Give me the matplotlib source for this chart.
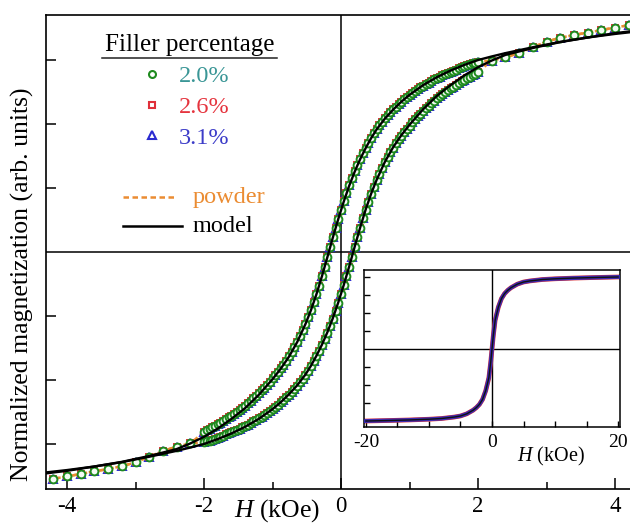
import numpy as np
import matplotlib
matplotlib.use("Agg")
import matplotlib.pyplot as plt
from matplotlib.lines import Line2D

plt.rcParams['font.family'] = ['Liberation Serif', 'DejaVu Serif']
plt.rcParams['mathtext.fontset'] = 'custom'
plt.rcParams['mathtext.rm'] = 'Liberation Serif'
plt.rcParams['mathtext.it'] = 'Liberation Serif:italic'
plt.rcParams['axes.unicode_minus'] = False

# ---------------- data ----------------
# dense part of the loop (kOe)
field_dense = [-2.00, -1.96, -1.92, -1.88, -1.84, -1.80, -1.76, -1.72, -1.68, -1.64,
               -1.60, -1.56, -1.52, -1.48, -1.44, -1.40, -1.36, -1.32, -1.28, -1.24,
               -1.20, -1.16, -1.12, -1.08, -1.04, -1.00, -0.96, -0.92, -0.88, -0.84,
               -0.80, -0.76, -0.72, -0.68, -0.64, -0.60, -0.56, -0.52, -0.48, -0.44,
               -0.40, -0.36, -0.32, -0.28, -0.24, -0.20, -0.16, -0.12, -0.08, -0.04,
               0.00, 0.04, 0.08, 0.12, 0.16, 0.20, 0.24, 0.28, 0.32, 0.36,
               0.40, 0.44, 0.48, 0.52, 0.56, 0.60, 0.64, 0.68, 0.72, 0.76,
               0.80, 0.84, 0.88, 0.92, 0.96, 1.00, 1.04, 1.08, 1.12, 1.16,
               1.20, 1.24, 1.28, 1.32, 1.36, 1.40, 1.44, 1.48, 1.52, 1.56,
               1.60, 1.64, 1.68, 1.72, 1.76, 1.80, 1.84, 1.88, 1.92, 1.96, 2.00]
# decreasing-field branch
mag_down = [-0.703, -0.697, -0.692, -0.685, -0.679, -0.673, -0.667, -0.660, -0.653, -0.646,
            -0.639, -0.632, -0.625, -0.616, -0.608, -0.600, -0.591, -0.582, -0.572, -0.562,
            -0.552, -0.541, -0.530, -0.518, -0.506, -0.494, -0.482, -0.469, -0.455, -0.441,
            -0.425, -0.408, -0.390, -0.371, -0.351, -0.329, -0.306, -0.281, -0.255, -0.227,
            -0.197, -0.165, -0.131, -0.095, -0.058, -0.020, 0.019, 0.057, 0.094, 0.130,
            0.165, 0.198, 0.230, 0.260, 0.288, 0.315, 0.340, 0.364, 0.386, 0.407,
            0.427, 0.446, 0.464, 0.480, 0.495, 0.509, 0.522, 0.534, 0.546, 0.557,
            0.567, 0.577, 0.587, 0.596, 0.605, 0.613, 0.621, 0.629, 0.636, 0.643,
            0.650, 0.656, 0.662, 0.668, 0.674, 0.680, 0.685, 0.690, 0.695, 0.700,
            0.705, 0.709, 0.713, 0.718, 0.722, 0.726, 0.729, 0.733, 0.737, 0.740, 0.744]
# increasing-field branch
mag_up = [-0.744, -0.740, -0.737, -0.733, -0.729, -0.726, -0.722, -0.718, -0.713, -0.709,
          -0.705, -0.700, -0.695, -0.690, -0.685, -0.680, -0.674, -0.668, -0.662, -0.656,
          -0.650, -0.643, -0.636, -0.629, -0.621, -0.613, -0.605, -0.596, -0.587, -0.577,
          -0.567, -0.557, -0.546, -0.534, -0.522, -0.509, -0.495, -0.480, -0.464, -0.446,
          -0.427, -0.407, -0.386, -0.364, -0.340, -0.315, -0.288, -0.260, -0.230, -0.198,
          -0.165, -0.130, -0.094, -0.057, -0.019, 0.020, 0.058, 0.095, 0.131, 0.165,
          0.197, 0.227, 0.255, 0.281, 0.306, 0.329, 0.351, 0.371, 0.390, 0.408,
          0.425, 0.441, 0.455, 0.469, 0.482, 0.494, 0.506, 0.518, 0.530, 0.541,
          0.552, 0.562, 0.572, 0.582, 0.591, 0.600, 0.608, 0.616, 0.625, 0.632,
          0.639, 0.646, 0.653, 0.660, 0.667, 0.673, 0.679, 0.685, 0.692, 0.697, 0.703]
# high-field tails (both branches coincide)
tail_field_neg = [-4.2, -4.0, -3.8, -3.6, -3.4, -3.2, -3.0, -2.8, -2.6, -2.4, -2.2]
tail_mag_neg = [-0.886, -0.877, -0.867, -0.857, -0.848, -0.837, -0.822, -0.800, -0.778, -0.760, -0.748]
tail_field_pos = [2.2, 2.4, 2.6, 2.8, 3.0, 3.2, 3.4, 3.6, 3.8, 4.0, 4.2]
tail_mag_pos = [0.748, 0.760, 0.778, 0.800, 0.822, 0.837, 0.848, 0.857, 0.867, 0.877, 0.886]

# model loop
model_field = [-4.4, -4.0, -3.6, -3.2, -2.8, -2.4, -2.2, -2.0, -1.8, -1.6, -1.4, -1.2, -1.0,
               -0.88, -0.76, -0.64, -0.52, -0.44, -0.36, -0.28, -0.20, -0.12, -0.04,
               0.04, 0.12, 0.20, 0.28, 0.36, 0.44, 0.52, 0.64, 0.76, 0.88,
               1.0, 1.2, 1.4, 1.6, 1.8, 2.0, 2.2, 2.4, 2.8, 3.2, 3.6, 4.0, 4.4]
model_down = [-0.868, -0.855, -0.838, -0.820, -0.797, -0.770, -0.748, -0.722, -0.690, -0.652,
              -0.610, -0.558, -0.497, -0.456, -0.409, -0.352, -0.282, -0.228, -0.166, -0.096,
              -0.021, 0.056, 0.129, 0.197, 0.259, 0.314, 0.363, 0.406, 0.445, 0.479,
              0.521, 0.556, 0.587, 0.614, 0.652, 0.683, 0.709, 0.731, 0.750, 0.764,
              0.777, 0.800, 0.821, 0.838, 0.852, 0.864]
model_up = [-0.864, -0.852, -0.838, -0.821, -0.800, -0.777, -0.764, -0.750, -0.731, -0.709,
            -0.683, -0.652, -0.614, -0.587, -0.556, -0.521, -0.479, -0.445, -0.406, -0.363,
            -0.314, -0.259, -0.197, -0.129, -0.056, 0.021, 0.096, 0.166, 0.228, 0.282,
            0.352, 0.409, 0.456, 0.497, 0.558, 0.610, 0.652, 0.690, 0.722, 0.748,
            0.770, 0.797, 0.820, 0.838, 0.855, 0.868]

# wide-field loop for the inset
wide_field = [-20, -16, -13, -10, -8, -6, -5, -4, -3, -2.5, -2, -1.5, -1, -0.5, -0.2, 0,
              0.2, 0.5, 1, 1.5, 2, 2.5, 3, 4, 5, 6, 8, 10, 13, 16, 20]
wide_mag = [-1.0, -0.992, -0.985, -0.975, -0.965, -0.945, -0.93, -0.90, -0.85, -0.815, -0.77,
            -0.70, -0.58, -0.40, -0.18, 0.0, 0.18, 0.40, 0.58, 0.70, 0.77, 0.815, 0.85,
            0.90, 0.93, 0.945, 0.965, 0.975, 0.985, 0.992, 1.0]

series_labels = ['2.0%', '2.6%', '3.1%']
series_markers = ['o', 's', '^']
marker_colors = ['#1e8a1e', '#e0303a', '#2a2ad0']
text_colors = ['#3a9696', '#e5343e', '#3c3cc8']
powder_color = '#eb8c32'

# ---------------- figure ----------------
W, HH = 630, 526
fx = lambda x: x / W
fy = lambda y: 1 - y / HH

fig = plt.figure(figsize=(6.3, 5.26), dpi=100)
ax = fig.add_axes([fx(46), fy(489), 589 / W, 474 / HH])
ax.set_xlim(-4.307, 4.292)
ax.set_ylim(-0.926, 0.926)
for s in ['left', 'top', 'bottom']:
    ax.spines[s].set_linewidth(1.2)
ax.spines['right'].set_visible(False)
ax.axhline(0, color='k', lw=1.1, zorder=1)
ax.axvline(0, color='k', lw=1.1, zorder=1)

ax.set_xticks([-4, -2, 0, 2, 4])
ax.set_xticklabels(['-4', '-2', '0', '2', '4'])
ax.set_xticks([-3, -1, 1, 3], minor=True)
ax.tick_params(axis='x', which='major', direction='in', length=8, width=1.1,
               labelsize=16.5, pad=5, top=False)
ax.tick_params(axis='x', which='minor', direction='in', length=5, width=1.1, top=False)
ax.set_yticks([-0.75, -0.5, -0.25, 0.25, 0.5, 0.75])
ax.tick_params(axis='y', which='major', direction='in', length=7, width=1.1,
               labelleft=False, right=False)

f_dense = np.array(field_dense)
f_all = np.concatenate([tail_field_neg, f_dense, f_dense, tail_field_pos])
m_all = np.concatenate([tail_mag_neg, mag_down, mag_up, tail_mag_pos])

# powder reference, dashed
down_path_f = np.concatenate([tail_field_pos[::-1], f_dense[::-1], tail_field_neg[::-1]])
down_path_m = np.concatenate([tail_mag_pos[::-1], np.array(mag_down)[::-1], tail_mag_neg[::-1]])
up_path_f = np.concatenate([tail_field_neg, f_dense, tail_field_pos])
up_path_m = np.concatenate([tail_mag_neg, mag_up, tail_mag_pos])
for pf, pm in [(down_path_f, down_path_m), (up_path_f, up_path_m)]:
    ax.plot(pf, pm, color=powder_color, lw=1.8, ls=(0, (2.2, 1.4)), zorder=2)

sizes = {'o': 5.6, 's': 4.6, '^': 6.4}
fills = {'o': '#f4fbf4', 's': 'none', '^': '#2a2ad0'}
order = [2, 1, 0]
for z, i in enumerate(order):
    mk = series_markers[i]
    ax.plot(f_all, m_all, ls='none', marker=mk, ms=sizes[mk], mfc=fills[mk],
            mec=marker_colors[i], mew=1.4, zorder=3 + z)

ax.plot(model_field, model_down, color='k', lw=1.7, zorder=7)
ax.plot(model_field, model_up, color='k', lw=1.7, zorder=7)

# axis titles
fig.text(fx(22), fy(284), 'Normalized magnetization (arb. units)', rotation=90,
         ha='center', va='center', fontsize=18.5)
fig.text(fx(277), fy(517), r'$H$ (kOe)', ha='center', va='baseline', fontsize=18.5)

# legend block
fig.text(fx(189.5), fy(51.5), 'Filler percentage', ha='center', va='baseline', fontsize=18)
fig.add_artist(Line2D([fx(102), fx(277)], [fy(57.5), fy(57.5)], color='#222222', lw=1.1))
rows = [74, 104.5, 135]
bases = [82.5, 113, 144]
leg_ms = {'o': 5.0, 's': 5.0, '^': 6.0}
for i in range(3):
    mk = series_markers[i]
    fig.add_artist(Line2D([fx(151.5)], [fy(rows[i])], marker=mk, ms=leg_ms[mk], mfc='none',
                          mec=marker_colors[i], mew=1.5, ls='none'))
    fig.text(fx(179), fy(bases[i]), series_labels[i], ha='left', va='baseline',
             fontsize=17.5, color=text_colors[i])
fig.add_artist(Line2D([fx(123), fx(176)], [fy(197), fy(197)], color=powder_color, lw=1.8,
                      ls=(0, (2.2, 1.4))))
fig.text(fx(193), fy(203), 'powder', ha='left', va='baseline', fontsize=17.5, color=powder_color)
fig.add_artist(Line2D([fx(123), fx(182)], [fy(226), fy(226)], color='k', lw=1.8))
fig.text(fx(193), fy(232), 'model', ha='left', va='baseline', fontsize=17.5, color='k')

# ---------------- inset ----------------
axi = fig.add_axes([fx(364), fy(427), 256 / W, 157 / HH])
axi.set_xlim(-20.3, 20.3)
axi.set_ylim(-1.083, 1.097)
for s in axi.spines.values():
    s.set_linewidth(1.1)
axi.axhline(0, color='k', lw=1.0, zorder=1)
axi.axvline(0, color='k', lw=1.0, zorder=1)
axi.set_xticks([-20, 0, 20])
axi.set_xticklabels(['-20', '0', '20'])
axi.set_xticks([-15, -10, -5, 5, 10, 15], minor=True)
axi.tick_params(axis='x', which='both', direction='in', length=4, width=1.0,
                labelsize=14, pad=5, top=False)
axi.set_yticks([-1, -0.75, -0.5, -0.25, 0.25, 0.5, 0.75, 1])
axi.tick_params(axis='y', direction='in', length=4, width=1.0, labelleft=False, right=False)
axi.plot(wide_field, wide_mag, color='#e03030', lw=3.4, zorder=2)
axi.plot(wide_field, wide_mag, color='#2a2ac0', lw=2.8, zorder=3, alpha=0.9)
axi.plot(wide_field, wide_mag, color='#111111', lw=1.0, zorder=4)
fig.text(fx(551), fy(461), r'$H$ (kOe)', ha='center', va='baseline', fontsize=14.5)

fig.savefig('out.png', dpi=100)
